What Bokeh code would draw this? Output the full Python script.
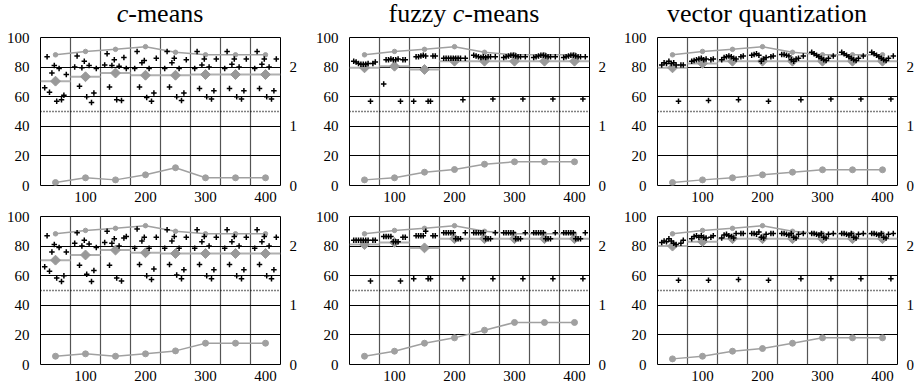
import math
from bokeh.plotting import figure
from bokeh.models import Range1d, LinearAxis, FixedTicker, Span, Div
from bokeh.layouts import column, row
from bokeh.embed import file_html
from bokeh.resources import INLINE

# ---------------- data ----------------
SIZES = [50, 100, 150, 200, 250, 300, 350, 400]
RUN_OFFSETS = [-18, -14, -10, -6, -2, 2, 6, 10, 14, 18]
UPPER = [88.3, 90.6, 92, 93.8, 90, 88.3, 88.3, 88.3]

CM_TOP_RUNS = [
    [66, 87, 63, 76, 81, 57, 79, 58, 61, 75],
    [80, 87.5, 67, 79.5, 84, 60, 81, 56, 62.5, 79],
    [81.5, 89, 66.5, 81, 85, 58, 80.5, 57.5, 86.5, 79],
    [79, 90.5, 66.5, 83, 84.5, 59.5, 79, 57, 62.5, 86],
    [79, 90.5, 66.5, 83, 86, 60, 79, 57.5, 62.5, 85],
    [79, 90.5, 65.5, 81.5, 85.5, 60, 80, 58.5, 64, 85.5],
    [79, 90.5, 65.5, 82, 85.5, 60, 80, 58.5, 64, 85.5],
    [79, 90.5, 65.5, 82, 85.5, 60, 80, 58.5, 64, 85.5],
]
CM_TOP_MEAN = [70.5, 73.5, 76, 74.5, 74.5, 75, 75, 75]
CM_TOP_LOW = [0.05, 0.13, 0.095, 0.18, 0.3, 0.13, 0.13, 0.13]

FZ_TOP_RUNS = [
    [84, 83.5, 82.5, 82, 82, 82, 82.5, 57, 82.5, 83.5],
    [68.5, 85, 85, 85.5, 85, 85, 85.5, 57, 85, 85],
    [57, 87, 87, 87.5, 88, 87.5, 57, 57, 87.5, 87.5],
    [86, 86, 86, 86, 86, 86, 86, 86, 58, 86],
    [88, 87.5, 87, 86.5, 87, 86.5, 87, 87, 58.5, 87],
    [86.5, 87, 87.5, 88, 88, 87.5, 87, 87, 58.5, 87],
    [86.5, 87, 87.5, 88, 88, 87.5, 87, 87, 58.5, 87],
    [86.5, 87, 87.5, 88, 88, 87.5, 87, 87, 58.5, 87],
]
FZ_TOP_MEAN = [79.5, 80.6, 78.4, 84, 84, 84, 84, 84]
FZ_TOP_LOW = [0.095, 0.13, 0.225, 0.27, 0.36, 0.4, 0.4, 0.4]

VQ_TOP_RUNS = [
    [81.5, 83, 82.5, 84, 82.5, 83, 81.5, 57, 81.5, 81.5],
    [84, 84.5, 85, 85.5, 86, 85, 85.5, 57.5, 85, 85.5],
    [85, 86.5, 87, 87.5, 87, 86, 85.5, 58, 87, 87.5],
    [88, 88.5, 89, 88, 84, 85.5, 86.5, 57, 87, 87.5],
    [88.5, 88.5, 88, 87.5, 85, 84, 85.5, 86, 58, 87.5],
    [90, 89, 88, 87, 86, 85, 84.5, 86, 58.5, 87.5],
    [90, 89, 88, 87, 86, 85, 84.5, 86, 58.5, 87.5],
    [90, 89, 88, 87, 86, 85, 84.5, 86, 58.5, 87.5],
]
VQ_TOP_MEAN = [79.5, 82.5, 84, 84, 84, 84, 84, 84]
VQ_TOP_LOW = [0.05, 0.095, 0.13, 0.18, 0.225, 0.265, 0.265, 0.265]

CM_BOT_RUNS = [
    [66, 87, 63, 76, 81, 58.5, 79, 56, 60, 76],
    [82, 89, 67, 80, 84, 61, 81.5, 56, 63.5, 79],
    [82.5, 90, 67, 82, 85, 58.5, 80, 56.5, 85.5, 86.5],
    [78.5, 91.5, 67.5, 83.5, 86, 60, 78.5, 57.5, 64.5, 86],
    [78.5, 91, 67.5, 83.5, 86.5, 60.5, 78.5, 58, 64, 86],
    [78.5, 91, 67.5, 83, 86.5, 60, 80, 58, 64, 86],
    [78.5, 91, 67.5, 83, 86.5, 60, 80, 58, 64, 86],
    [78.5, 91, 67.5, 83, 86.5, 60, 80, 58, 64, 86],
]
CM_BOT_MEAN = [70.5, 74, 77.3, 75.5, 75, 75, 75, 75]
CM_BOT_LOW = [0.14, 0.18, 0.14, 0.18, 0.23, 0.36, 0.36, 0.36]

FZ_BOT_RUNS = [
    [84, 84, 84, 84, 84, 84, 84, 56.5, 84, 84],
    [86.5, 86.5, 86.5, 86.5, 83, 83, 83, 56.5, 86, 86],
    [58, 87, 87, 87, 87, 90, 58, 58, 87, 87],
    [89, 89, 89, 89, 89, 85, 85, 85, 58, 89],
    [89, 89, 89, 89, 89, 85, 85, 85, 58, 89],
    [89, 89, 89, 89, 89, 85, 85, 85, 58, 89],
    [89, 89, 89, 89, 89, 85, 85, 85, 58, 89],
    [89, 89, 89, 89, 89, 85, 85, 85, 58, 89],
]
FZ_BOT_MEAN = [81, 82.5, 78.8, 85, 85, 85, 85, 85]
FZ_BOT_LOW = [0.14, 0.225, 0.36, 0.45, 0.58, 0.71, 0.71, 0.71]

VQ_BOT_RUNS = [
    [82.5, 83.5, 83, 85, 83.5, 82, 81, 57, 82, 84],
    [85, 86.5, 87, 86, 87, 86, 85.5, 57, 86, 87],
    [85.5, 87.5, 88, 87, 86.5, 85.5, 88.5, 57.5, 88.5, 88.5],
    [88.5, 88.5, 88, 89.5, 86, 85.5, 88, 57, 88.5, 88.5],
    [88.5, 88.5, 88, 87.5, 88.5, 86, 85.5, 88, 58, 88.5],
    [88.5, 88.5, 88, 87.5, 88.5, 86, 85.5, 88, 58, 88.5],
    [88.5, 88.5, 88, 87.5, 88.5, 86, 85.5, 88, 58, 88.5],
    [88.5, 88.5, 88, 87.5, 88.5, 86, 85.5, 88, 58, 88.5],
]
VQ_BOT_MEAN = [80, 83, 85, 85, 85, 85, 85, 85]
VQ_BOT_LOW = [0.095, 0.14, 0.225, 0.27, 0.36, 0.45, 0.45, 0.45]

TITLES = ["<i>c</i>-means", "fuzzy <i>c</i>-means", "vector quantization"]
X_TICKS = [100, 200, 300, 400]
Y_TICKS = [0, 20, 40, 60, 80, 100]
R_TICKS = [0, 1, 2]
Y_GRID = [20, 40, 60, 80]

# ---------------- style ----------------
FONT = "Liberation Serif"
GRAY = "#a0a0a0"
MARK_GRAY = "#999999"
FRAME_W = 240
FRAME_H = 148
TITLE_H = 28
# (left border, right border) per column
BORDERS = [(40, 32), (32, 31), (32, 20)]


def make_title(html, col):
    lb, rb = BORDERS[col]
    w = lb + FRAME_W + rb
    inner = (f'<div style="width:{FRAME_W}px;margin-left:{lb}px;text-align:center;'
             f"font-family:'Liberation Serif',serif;font-size:26px;line-height:{TITLE_H}px;"
             f'white-space:nowrap;color:black;">{html}</div>')
    return Div(text=inner, width=w, height=TITLE_H, margin=(0, 0, 0, 0))


def make_panel(runs, means, low, top_row, col):
    lb, rb = BORDERS[col]
    p = figure(frame_width=FRAME_W, frame_height=FRAME_H,
               x_range=Range1d(25, 425), y_range=Range1d(0, 100),
               output_backend="svg", toolbar_location=None,
               min_border_left=lb, min_border_right=rb,
               min_border_top=9 if top_row else 12,
               min_border_bottom=19)
    p.extra_y_ranges = {"r": Range1d(0, 2.5)}
    p.add_layout(LinearAxis(y_range_name="r", ticker=FixedTicker(ticks=R_TICKS)), "right")
    p.xaxis.ticker = FixedTicker(ticks=X_TICKS)
    p.left[0].ticker = FixedTicker(ticks=Y_TICKS)
    axes = list(p.below) + list(p.left) + list(p.right)
    for ax in axes:
        ax.axis_line_color = None
        ax.major_tick_line_color = None
        ax.minor_tick_line_color = None
        ax.major_label_text_font = FONT
        ax.major_label_text_font_size = "15px"
        ax.major_label_text_color = "black"
    p.below[0].major_label_standoff = 0
    p.left[0].major_label_standoff = 5
    p.right[0].major_label_standoff = 3

    bounds = [s + 25 for s in SIZES[:-1]]
    p.xgrid.ticker = FixedTicker(ticks=bounds)
    p.xgrid.grid_line_color = "#555555"
    p.xgrid.grid_line_width = 1.2
    p.ygrid.ticker = FixedTicker(ticks=Y_GRID)
    p.ygrid.grid_line_color = "black"
    p.ygrid.grid_line_width = 1
    p.outline_line_color = "black"
    p.outline_line_width = 1
    p.add_layout(Span(location=50, dimension="width", line_color="black",
                      line_dash="1 2", line_width=1.3))

    # mean segments and diamonds
    p.segment(x0=[s - 25 for s in SIZES], x1=[s + 25 for s in SIZES], y0=means, y1=means,
              line_color="#b0b0b0", line_width=2)
    p.scatter(SIZES, means, marker="square", angle=math.pi / 4, size=7,
              fill_color=MARK_GRAY, line_color=MARK_GRAY)
    # upper line
    p.line(SIZES, UPPER, line_color=GRAY, line_width=1.5)
    p.scatter(SIZES, UPPER, size=4.5, fill_color=GRAY, line_color=GRAY)
    # lower line (right axis)
    p.line(SIZES, low, line_color=GRAY, line_width=1.5, y_range_name="r")
    p.scatter(SIZES, low, size=6, fill_color=GRAY, line_color=GRAY, y_range_name="r")
    # runs
    xs, ys = [], []
    for s, grp in zip(SIZES, runs):
        for o, v in zip(RUN_OFFSETS, grp):
            xs.append(s + o)
            ys.append(v)
    p.scatter(xs, ys, marker="cross", size=5.5, line_width=1.5, line_color="black")
    return p


layout = column(
    row(make_title(TITLES[0], 0), make_title(TITLES[1], 1), make_title(TITLES[2], 2)),
    row(make_panel(CM_TOP_RUNS, CM_TOP_MEAN, CM_TOP_LOW, True, 0),
        make_panel(FZ_TOP_RUNS, FZ_TOP_MEAN, FZ_TOP_LOW, True, 1),
        make_panel(VQ_TOP_RUNS, VQ_TOP_MEAN, VQ_TOP_LOW, True, 2)),
    row(make_panel(CM_BOT_RUNS, CM_BOT_MEAN, CM_BOT_LOW, False, 0),
        make_panel(FZ_BOT_RUNS, FZ_BOT_MEAN, FZ_BOT_LOW, False, 1),
        make_panel(VQ_BOT_RUNS, VQ_BOT_MEAN, VQ_BOT_LOW, False, 2)),
)
open("out.html", "w").write(file_html(layout, INLINE))
